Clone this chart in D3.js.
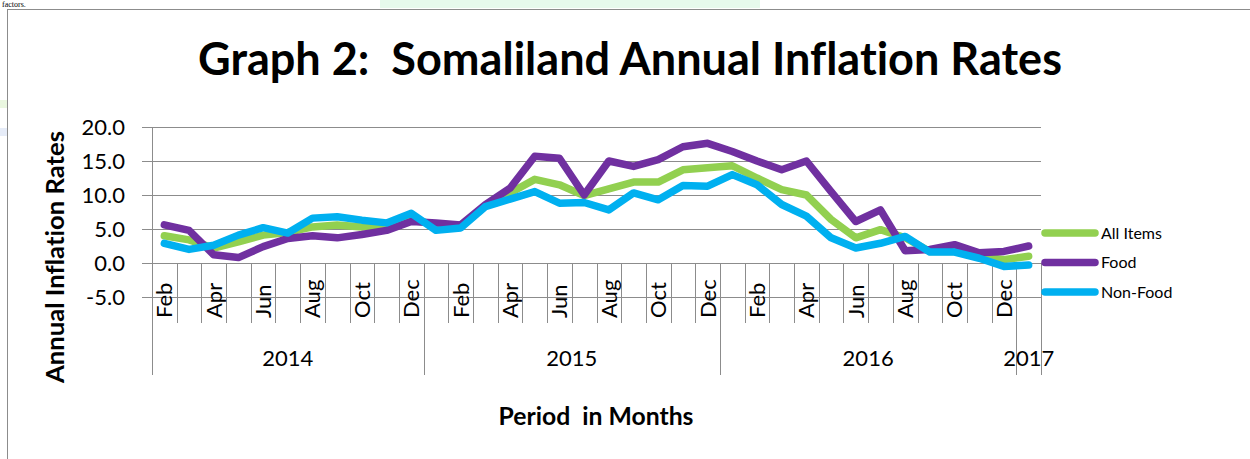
<!DOCTYPE html>
<html>
<head>
<meta charset="utf-8">
<script src="https://cdn.jsdelivr.net/npm/d3@7"></script>
<style>
  html, body { margin: 0; padding: 0; background: #fff; }
  svg { display: block; }
  text { font-family: Lato, "Open Sans", sans-serif; fill: #000; white-space: pre; font-variant-ligatures: none; }
</style>
</head>
<body>
<svg id="chart" width="1250" height="459"></svg>
<script>
// ---------- data ----------
const monthLabels = [
  "Feb","Mar","Apr","May","Jun","Jul","Aug","Sep","Oct","Nov","Dec",
  "Jan","Feb","Mar","Apr","May","Jun","Jul","Aug","Sep","Oct","Nov","Dec",
  "Jan","Feb","Mar","Apr","May","Jun","Jul","Aug","Sep","Oct","Nov","Dec",
  "Jan"
];
const yearLabels = [
  "2014","2014","2014","2014","2014","2014","2014","2014","2014","2014","2014",
  "2015","2015","2015","2015","2015","2015","2015","2015","2015","2015","2015","2015",
  "2016","2016","2016","2016","2016","2016","2016","2016","2016","2016","2016","2016",
  "2017"
];
const allItems = [4.0, 3.4, 2.2, 3.1, 4.1, 4.5, 5.3, 5.6, 5.3, 5.5, 6.3,
  5.7, 5.3, 8.4, 10.3, 12.3, 11.5, 9.9, 10.9, 11.9, 11.9, 13.7, 14.0,
  14.3, 12.5, 10.8, 10.0, 6.4, 3.7, 4.9, 3.7, 1.7, 1.7, 1.0, 0.5,
  1.0];
const food = [5.6, 4.8, 1.2, 0.8, 2.4, 3.6, 4.0, 3.7, 4.2, 4.8, 6.1,
  5.9, 5.6, 8.6, 11.0, 15.7, 15.4, 10.0, 15.0, 14.2, 15.2, 17.1, 17.6,
  16.4, 15.0, 13.7, 15.0, 10.5, 6.1, 7.8, 1.8, 2.0, 2.7, 1.5, 1.7,
  2.5];
const nonFood = [2.9, 2.0, 2.6, 4.1, 5.2, 4.4, 6.6, 6.8, 6.3, 5.9, 7.3,
  4.8, 5.15, 8.3, 9.4, 10.5, 8.8, 8.9, 7.8, 10.3, 9.3, 11.4, 11.3,
  13.0, 11.5, 8.6, 6.9, 3.7, 2.2, 2.9, 3.9, 1.6, 1.6, 0.7, -0.5,
  -0.3];
const seriesNames = ["All Items", "Food", "Non-Food"];
const seriesColors = ["#92D050", "#7030A0", "#00B0F0"];
const yTicks = [-5, 0, 5, 10, 15, 20];

(function draw() {
  const svg = d3.select("#chart");
  const pL = 152, pR = 1041, pT = 127, pB = 297;
  const x = d3.scaleBand().domain(d3.range(monthLabels.length)).range([pL, pR]).padding(0);
  const y = d3.scaleLinear().domain([-5, 20]).range([pB, pT]);
  const y0 = y(0);
  const grid = "#8c8c8c";
  const fmt = d3.formatLocale({ decimal: ".", thousands: ",", grouping: [3], currency: ["", ""], minus: "-" }).format(".1f");

  function fitText(sel, target) {
    const fs = parseFloat(sel.attr("font-size"));
    const w = sel.node().getComputedTextLength();
    if (w > 0) sel.attr("font-size", (fs * target / w).toFixed(2));
  }

  // page background bits and chart border
  svg.append("rect").attr("x", 380).attr("y", 0).attr("width", 380).attr("height", 8).attr("fill", "#e6f9ec");
  svg.append("rect").attr("x", 0).attr("y", 100).attr("width", 7).attr("height", 8).attr("fill", "#eaf7e0");
  svg.append("rect").attr("x", 0).attr("y", 128).attr("width", 7).attr("height", 8).attr("fill", "#e6ecf8");
  svg.append("text").attr("x", 2).attr("y", 7).attr("font-size", 8)
    .style("font-family", "'Liberation Serif', serif").text("factors.");
  svg.append("rect").attr("x", 7.5).attr("y", 9.5).attr("width", 1260).attr("height", 470)
    .attr("fill", "#fff").attr("stroke", "#8c8c8c").attr("stroke-width", 1);

  // title
  const title = svg.append("text").attr("x", 630).attr("y", 75).attr("text-anchor", "middle")
    .attr("font-size", 36).attr("font-weight", "bold")
    .text("Graph 2:  Somaliland Annual Inflation Rates");
  fitText(title, 864);

  // horizontal gridlines
  svg.append("g").selectAll("line").data(yTicks).join("line")
    .attr("x1", pL - 10).attr("x2", pR)
    .attr("y1", d => Math.round(y(d)) + 0.5).attr("y2", d => Math.round(y(d)) + 0.5)
    .attr("stroke", grid).attr("stroke-width", 1);

  // y axis labels
  const yAxis = svg.append("g").attr("transform", `translate(${pL},0)`)
    .call(d3.axisLeft(y).tickValues(yTicks).tickFormat(fmt).tickSize(9).tickPadding(18));
  yAxis.select(".domain").remove();
  yAxis.selectAll("line").remove();
  yAxis.selectAll("text").attr("font-size", 22).style("font-family", "Lato, sans-serif").attr("fill", "#000");

  // category separators
  const n = monthLabels.length;
  const edgeX = i => (i < n ? x(i) : pR);
  svg.append("g").selectAll("line").data(d3.range(n + 1)).join("line")
    .attr("x1", i => Math.round(edgeX(i)) + 0.5).attr("x2", i => Math.round(edgeX(i)) + 0.5)
    .attr("y1", y0).attr("y2", 323)
    .attr("stroke", grid).attr("stroke-width", 1);

  // year groups
  const groups = [];
  yearLabels.forEach((yr, i) => {
    if (!groups.length || groups[groups.length - 1].year !== yr) groups.push({ year: yr, start: i, end: i });
    else groups[groups.length - 1].end = i;
  });
  const yearEdges = [0].concat(groups.map(g => g.end + 1));
  svg.append("g").selectAll("line").data(yearEdges).join("line")
    .attr("x1", i => Math.round(edgeX(i)) + 0.5).attr("x2", i => Math.round(edgeX(i)) + 0.5)
    .attr("y1", i => i === 0 ? pT : y0).attr("y2", 375)
    .attr("stroke", grid).attr("stroke-width", 1);

  // month labels (every second)
  svg.append("g").selectAll("text")
    .data(monthLabels.map((m, i) => ({ m, i })).filter(d => d.i % 2 === 0))
    .join("text")
    .attr("transform", d => `translate(${x(d.i) + x.bandwidth() / 2},318) rotate(-90)`)
    .attr("dy", "0.36em").attr("font-size", 22).text(d => d.m);

  // year labels
  svg.append("g").selectAll("text").data(groups).join("text")
    .attr("x", g => (edgeX(g.start) + edgeX(g.end + 1)) / 2)
    .attr("y", 366).attr("text-anchor", "middle").attr("font-size", 22)
    .text(g => g.year);

  // axis titles
  const xt = svg.append("text").attr("x", 596).attr("y", 425).attr("text-anchor", "middle")
    .attr("font-size", 20).attr("font-weight", "bold").text("Period  in Months");
  fitText(xt, 195);
  const yt = svg.append("text").attr("transform", "translate(64,257) rotate(-90)")
    .attr("text-anchor", "middle").attr("font-size", 20).attr("font-weight", "bold")
    .text("Annual Inflation Rates");
  fitText(yt, 252);

  // series lines
  const seriesData = [allItems, food, nonFood];
  const line = d3.line().x((d, i) => x(i) + x.bandwidth() / 2).y(d => y(d));
  svg.append("g").selectAll("path").data(seriesData).join("path")
    .attr("d", d => line(d)).attr("fill", "none")
    .attr("stroke", (d, i) => seriesColors[i]).attr("stroke-width", 7.5)
    .attr("stroke-linejoin", "round").attr("stroke-linecap", "round");

  // legend
  const lg = svg.append("g").selectAll("g").data(seriesNames).join("g")
    .attr("transform", (d, i) => `translate(0,${233 + i * 29.5})`);
  lg.append("line").attr("x1", 1045).attr("x2", 1095).attr("y1", 0).attr("y2", 0)
    .attr("stroke", (d, i) => seriesColors[i]).attr("stroke-width", 7.5).attr("stroke-linecap", "round");
  lg.append("text").attr("x", 1101).attr("y", 0).attr("dy", "0.35em").attr("font-size", 16)
    .text(d => d);
})();
</script>
</body>
</html>
